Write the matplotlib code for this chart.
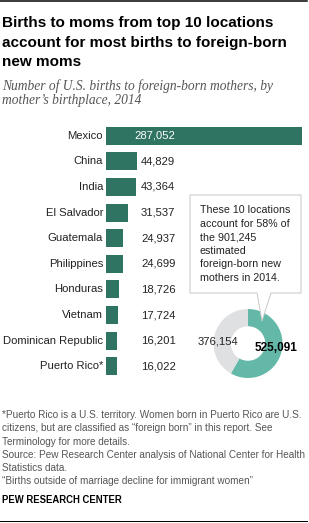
import matplotlib
matplotlib.use("Agg")
import matplotlib.pyplot as plt
from matplotlib.patches import Polygon
from matplotlib.lines import Line2D

# ---- data ----
categories = ["Mexico", "China", "India", "El Salvador", "Guatemala", "Philippines",
              "Honduras", "Vietnam", "Dominican Republic", "Puerto Rico*"]
births = [287052, 44829, 43364, 31537, 24937, 24699, 18726, 17724, 16201, 16022]
donut_values = [525091, 376154]
donut_labels = ["525,091", "376,154"]

W, H = 309, 523
DPI = 72
fig = plt.figure(figsize=(W / DPI, H / DPI), dpi=DPI)
fig.patch.set_facecolor("white")

def fx(x):
    return x / W

def fy(y):
    return 1 - y / H

SANS = ["Liberation Sans", "DejaVu Sans"]
SERIF = ["Liberation Serif", "DejaVu Serif"]
BAR = "#2f7363"
TEAL = "#63b8a7"
GRAY = "#dfe0e2"

# top and bottom rules
fig.add_artist(Line2D([fx(0), fx(307)], [fy(1), fy(1)], color="black", lw=1.5))
fig.add_artist(Line2D([fx(0), fx(307)], [fy(521), fy(521)], color="black", lw=1.0))

# title
title_lines = ["Births to moms from top 10 locations",
               "account for most births to foreign-born",
               "new moms"]
for i, t in enumerate(title_lines):
    fig.text(fx(2), fy(27 + i * 19.5), t, fontsize=15.3, fontweight="bold",
             family=SANS, va="baseline", ha="left", color="black")

sub_lines = ["Number of U.S. births to foreign-born mothers, by",
             "mother\u2019s birthplace, 2014"]
for i, t in enumerate(sub_lines):
    fig.text(fx(2), fy(90 + i * 14), t, fontsize=13.5, style="italic",
             family=SERIF, va="baseline", ha="left", color="#555555")

# bar chart
ax = fig.add_axes([fx(106), fy(379), 196 / W, 256 / H])
n = len(categories)
ypos = list(range(n))
ax.barh(ypos, births, height=0.7, color=BAR, edgecolor="none")
ax.set_xlim(0, max(births))
ax.set_ylim(n - 0.5, -0.5)
ax.axis("off")
for i, (c, v) in enumerate(zip(categories, births)):
    ax.annotate(c, xy=(0, i), xytext=(-3, 0), textcoords="offset points",
                ha="right", va="center", fontsize=11.3, family=SANS, color="#222222")
    if i == 0:
        ax.annotate(f"{v:,}", xy=(0, i), xytext=(28, 0), textcoords="offset points",
                    ha="left", va="center", fontsize=11.3, family=SANS, color="white")
    else:
        ax.annotate(f"{v:,}", xy=(0, i), xytext=(35, 0), textcoords="offset points",
                    ha="left", va="center", fontsize=11.3, family=SANS, color="#222222")

# callout box
box = [(190, 195), (301, 195), (301, 293), (271, 293), (262, 321), (257, 293), (190, 293)]
poly = Polygon([(fx(x), fy(y)) for x, y in box], closed=True, transform=fig.transFigure,
               facecolor="white", edgecolor="#c8c8c8", lw=1.0)
fig.add_artist(poly)
box_lines = ["These 10 locations", "account for 58% of", "the 901,245",
             "estimated", "foreign-born new", "mothers in 2014."]
for i, t in enumerate(box_lines):
    fig.text(fx(200), fy(210 + i * 13.6), t, fontsize=10.6, family=SANS,
             va="center", ha="left", color="#222222")

# donut
r = 34.5
dax = fig.add_axes([fx(248 - r), fy(343.5 + r), 2 * r / W, 2 * r / H])
dax.pie(donut_values, colors=[TEAL, GRAY], startangle=90, counterclock=False,
        radius=1, wedgeprops=dict(width=0.5, edgecolor="none"))
dax.set_xlim(-1, 1)
dax.set_ylim(-1, 1)
dax.set_aspect("equal")
dax.axis("off")

fig.text(fx(218), fy(341), donut_labels[1], fontsize=11.3, family=SANS,
         ha="center", va="center", color="#222222")
fig.text(fx(276), fy(348), donut_labels[0], fontsize=11.8, family=SANS,
         fontweight="bold", ha="center", va="center", color="black")

# footnotes
notes = ["*Puerto Rico is a U.S. territory. Women born in Puerto Rico are U.S.",
         "citizens, but are classified as \u201cforeign born\u201d in this report. See",
         "Terminology for more details.",
         "Source: Pew Research Center analysis of National Center for Health",
         "Statistics data.",
         "\u201cBirths outside of marriage decline for immigrant women\u201d"]
for i, t in enumerate(notes):
    fig.text(fx(2), fy(415 + i * 13.3), t, fontsize=10.0, family=SANS,
             va="center", ha="left", color="#555555")
fig.text(fx(2), fy(500), "PEW RESEARCH CENTER", fontsize=9.5, family=SANS,
         fontweight="bold", va="center", ha="left", color="black")

fig.savefig("out.png", dpi=DPI, facecolor="white")
